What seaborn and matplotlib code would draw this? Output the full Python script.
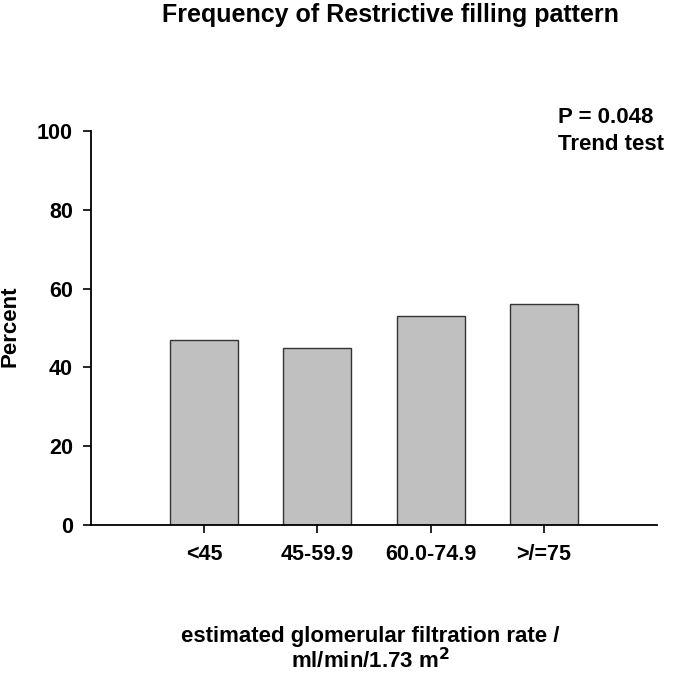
import matplotlib
matplotlib.use("Agg")
import matplotlib.pyplot as plt
import seaborn as sns
import pandas as pd

categories = ["<45", "45-59.9", "60.0-74.9", ">/=75"]
percent = [47, 45, 53, 56]
yticks = [0, 20, 40, 60, 80, 100]

sns.set_style("white")
plt.rcParams["font.family"] = ["Liberation Sans", "DejaVu Sans"]
plt.rcParams["font.weight"] = "bold"
for k in ["text.color", "axes.labelcolor", "xtick.color", "ytick.color"]:
    plt.rcParams[k] = "black"

df = pd.DataFrame({"group": categories, "percent": percent})

fig = plt.figure(figsize=(6.85, 6.75), dpi=100)
ax = fig.add_axes([91/685, 1-525/675, (657-91)/685, (525-131)/675])
sns.barplot(data=df, x="group", y="percent", color="#c0c0c0", saturation=1,
            edgecolor="#333333", linewidth=1.0, width=0.6, ax=ax)
ax.set_xlim(-1, 4)
ax.set_ylim(0, 100)
ax.set_yticks(yticks)
sns.despine(ax=ax)
for s in ["left", "bottom"]:
    ax.spines[s].set_linewidth(1.3)
    ax.spines[s].set_color("black")
ax.tick_params(axis="both", direction="out", length=6, width=1.2, colors="black",
               labelsize=15.5, left=True, bottom=True)
ax.tick_params(axis="x", pad=8)
ax.tick_params(axis="y", pad=7)
for lab in ax.get_xticklabels() + ax.get_yticklabels():
    lab.set_fontweight("bold")
ax.set_xlabel("")
ax.set_ylabel("")

fig.text(10/685, 1-326/675, "Percent", rotation=90, ha="center", va="center",
         fontsize=16, fontweight="bold")
fig.text(390/685, 1-22/675, "Frequency of Restrictive filling pattern", ha="center", va="baseline",
         fontsize=18, fontweight="bold")
fig.text(370/685, 1-642/675, "estimated glomerular filtration rate /", ha="center", va="baseline",
         fontsize=16, fontweight="bold")
fig.text(370/685, 1-668/675, r"ml/min/1.73 m$^{\mathbf{2}}$", ha="center", va="baseline",
         fontsize=16, fontweight="bold")
fig.text(558/685, 1-123/675, "P = 0.048", ha="left", va="baseline", fontsize=16, fontweight="bold")
fig.text(558/685, 1-150/675, "Trend test", ha="left", va="baseline", fontsize=16, fontweight="bold")

fig.savefig("out.png", dpi=100)
